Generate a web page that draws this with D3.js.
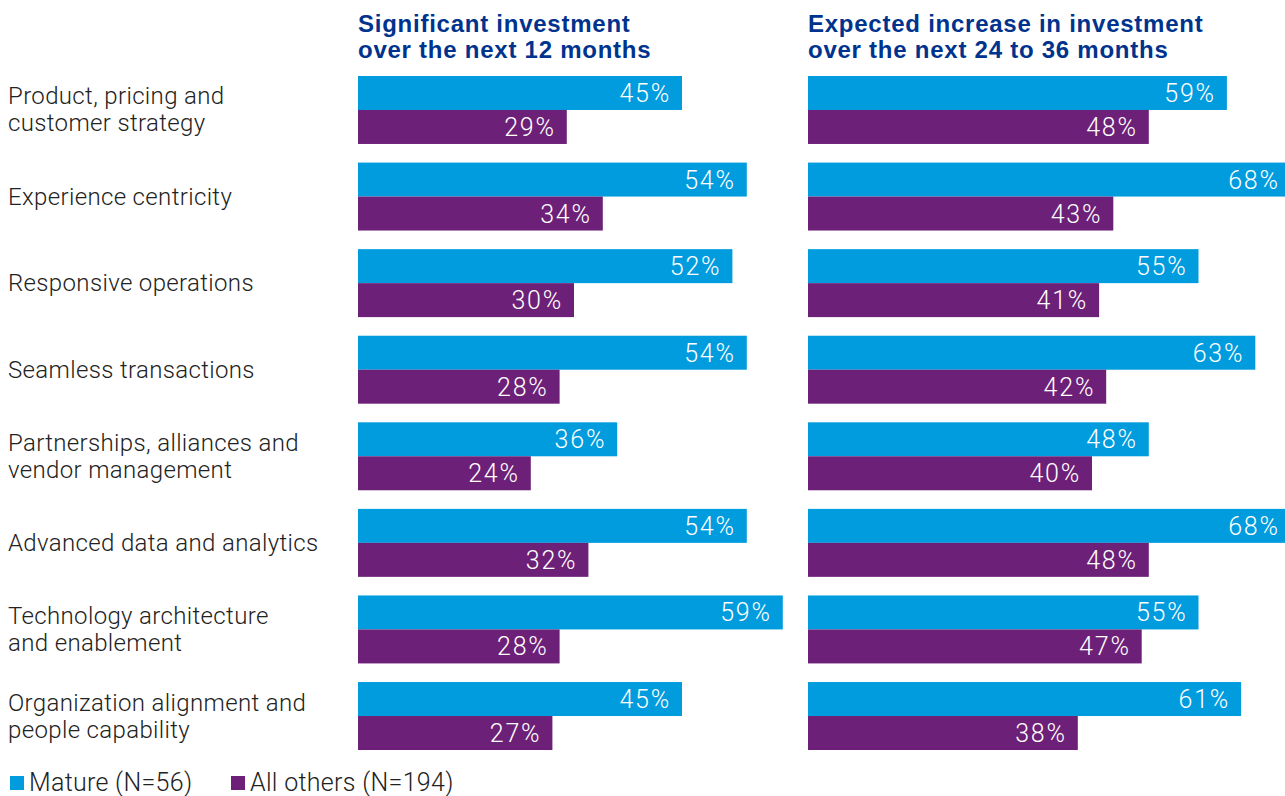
<!DOCTYPE html>
<html>
<head>
<meta charset="utf-8">
<script src="https://cdn.jsdelivr.net/npm/d3@7"></script>
<style>
  body { margin: 0; background: #fff; }
  svg { display: block; }
</style>
</head>
<body>
<div id="chart"></div>
<script>
// data
var categories = [
    ["Product, pricing and", "customer strategy"],
    ["Experience centricity"],
    ["Responsive operations"],
    ["Seamless transactions"],
    ["Partnerships, alliances and", "vendor management"],
    ["Advanced data and analytics"],
    ["Technology architecture", "and enablement"],
    ["Organization alignment and", "people capability"]
];
var series = ["Mature (N=56)", "All others (N=194)"];
var colors = ["#009cde", "#6d2077"];

var panelTitles = [
    ["Significant investment", "over the next 12 months"],
    ["Expected increase in investment", "over the next 24 to 36 months"]
];
var next12Mature = [45, 54, 52, 54, 36, 54, 59, 45];
var next12Others = [29, 34, 30, 28, 24, 32, 28, 27];
var next36Mature = [59, 68, 55, 63, 48, 68, 55, 61];
var next36Others = [48, 43, 41, 42, 40, 48, 47, 38];

var panels = [
    { title: panelTitles[0], values: [next12Mature, next12Others], x0: 358, pxPer: 7.2 },
    { title: panelTitles[1], values: [next36Mature, next36Others], x0: 808, pxPer: 7.1 }
];

var W = 1285, H = 796;
var labelFont = "Roboto";

var svg = d3.select("#chart")
  .append("svg")
  .attr("width", W)
  .attr("height", H);

var keys = categories.map(function(d, i) { return i; });

var y = d3.scaleBand()
  .domain(keys)
  .range([76, 750])
  .paddingInner(0.215)
  .paddingOuter(0);

var sub = d3.scaleBand()
  .domain([0, 1])
  .range([0, y.bandwidth()]);

// category labels on the left
var cat = svg.append("g").attr("class", "categories");
categories.forEach(function(lines, i) {
    var cy = y(i) + y.bandwidth() / 2;
    var t = cat.append("text")
      .attr("x", 8)
      .attr("y", cy - (lines.length - 1) * 13.5 + 8)
      .attr("fill", "#222")
      .attr("font-family", labelFont)
      .attr("font-weight", 300)
      .attr("letter-spacing", "0.35px")
      .style("font-size", "24px");
    lines.forEach(function(l, j) {
        t.append("tspan")
          .attr("x", 8)
          .attr("dy", j === 0 ? 0 : 27)
          .text(l);
    });
});

panels.forEach(function(p) {
    var x = d3.scaleLinear()
      .domain([0, 100])
      .range([p.x0, p.x0 + 100 * p.pxPer]);

    var g = svg.append("g");

    var title = g.append("text")
      .attr("x", p.x0)
      .attr("y", 32)
      .attr("fill", "#00338d")
      .attr("font-family", "Liberation Sans, Arial, sans-serif")
      .attr("font-weight", "bold")
      .attr("letter-spacing", "0.75px")
      .style("font-size", "24px");
    p.title.forEach(function(l, j) {
        title.append("tspan")
          .attr("x", p.x0)
          .attr("dy", j === 0 ? 0 : 26)
          .text(l);
    });

    p.values.forEach(function(vals, s) {
        g.selectAll(null)
          .data(vals)
          .enter()
          .append("rect")
          .attr("x", x(0))
          .attr("y", function(d, i) { return y(i) + sub(s); })
          .attr("width", function(d) { return x(d) - x(0); })
          .attr("height", sub.bandwidth())
          .attr("fill", colors[s]);

        g.selectAll(null)
          .data(vals)
          .enter()
          .append("text")
          .attr("x", function(d) { return Math.min(x(d) - 11, W - 3); })
          .attr("y", function(d, i) { return y(i) + sub(s) + sub.bandwidth() / 2 + 9; })
          .attr("text-anchor", "end")
          .attr("fill", "#fff")
          .attr("font-family", labelFont)
          .attr("font-weight", 300)
          .attr("letter-spacing", "1.8px")
          .style("font-size", "25px")
          .text(function(d) { return d + "%"; });
    });
});

// legend
var leg = svg.append("g").attr("class", "legend");
var legX = [10, 231];
series.forEach(function(s, i) {
    leg.append("rect")
      .attr("x", legX[i])
      .attr("y", 776)
      .attr("width", 14)
      .attr("height", 14)
      .attr("fill", colors[i]);
    leg.append("text")
      .attr("x", legX[i] + 19)
      .attr("y", 791)
      .attr("fill", "#222")
      .attr("font-family", labelFont)
      .attr("font-weight", 300)
      .attr("letter-spacing", "0.3px")
      .style("font-size", "25px")
      .text(s);
});
</script>
</body>
</html>
